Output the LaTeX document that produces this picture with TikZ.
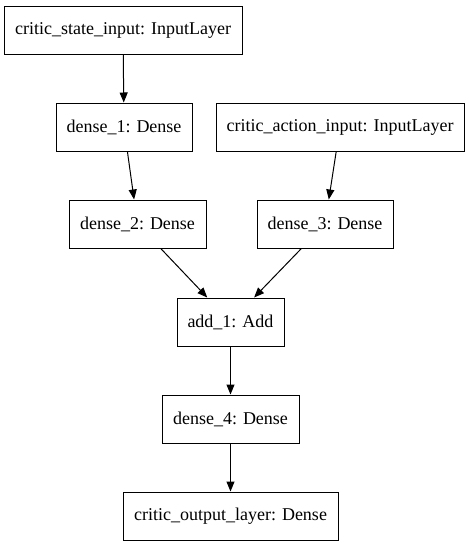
\documentclass[tikz,border=0pt]{standalone}
\usepackage{fontspec}
\setmainfont{Liberation Serif}
\usetikzlibrary{arrows.meta}
\begin{document}
\begin{tikzpicture}[x=1pt,y=-1pt,
  layer/.style={draw=black,line width=1pt,rectangle,inner sep=0pt,minimum height=48pt,
    font=\fontsize{18}{21}\selectfont},
  conn/.style={draw=black,line width=1pt,-{Triangle[length=10pt,width=8pt]}}]
\path[use as bounding box] (0,0) rectangle (469,547);
\node[layer,minimum width=238pt] (csi) at (123,30) {critic\_state\_input: InputLayer};
\node[layer,minimum width=136pt] (d1) at (124,127) {dense\_1: Dense};
\node[layer,minimum width=248pt] (cai) at (340,127) {critic\_action\_input: InputLayer};
\node[layer,minimum width=137pt] (d2) at (137.5,224) {dense\_2: Dense};
\node[layer,minimum width=136pt] (d3) at (325,224) {dense\_3: Dense};
\node[layer,minimum width=107pt] (add) at (230.5,322) {add\_1: Add};
\node[layer,minimum width=137pt] (d4) at (230.5,419) {dense\_4: Dense};
\node[layer,minimum width=215pt] (out) at (230.5,516) {critic\_output\_layer: Dense};
\draw[conn] (csi) -- (d1);
\draw[conn] (d1) -- (d2);
\draw[conn] (cai) -- (d3);
\draw[conn] (d2) -- (add);
\draw[conn] (d3) -- (add);
\draw[conn] (add) -- (d4);
\draw[conn] (d4) -- (out);
\end{tikzpicture}
\end{document}
